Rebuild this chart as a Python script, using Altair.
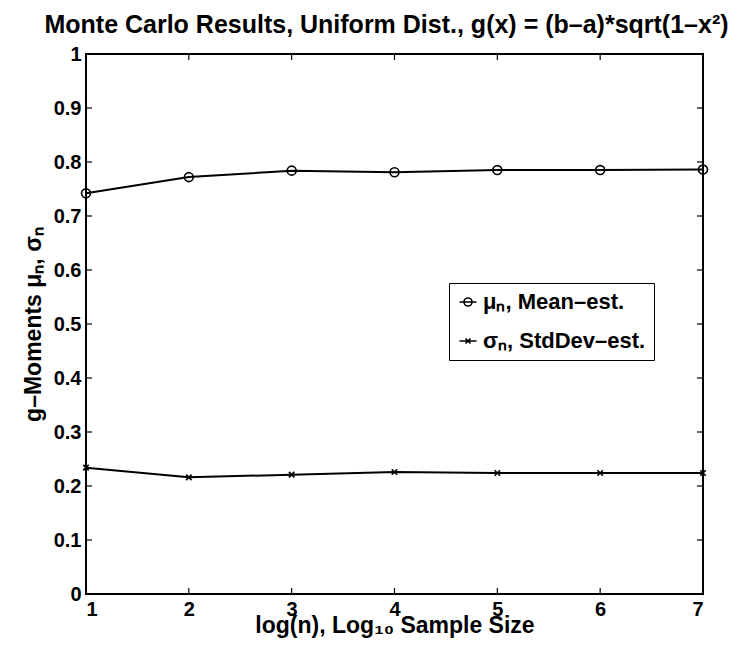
import altair as alt
import pandas as pd

# ---- data ----
log_n = [1, 2, 3, 4, 5, 6, 7]
mean_est = [0.742, 0.772, 0.784, 0.781, 0.785, 0.785, 0.786]
std_est = [0.234, 0.216, 0.221, 0.226, 0.224, 0.224, 0.224]
series_names = ["μₙ, Mean–est.", "σₙ, StdDev–est."]
x_ticks = [1, 2, 3, 4, 5, 6, 7]
y_ticks = [0, 0.1, 0.2, 0.3, 0.4, 0.5, 0.6, 0.7, 0.8, 0.9, 1.0]

W, H = 617, 540
FONT = "Liberation Sans"

df = pd.DataFrame({
    "x": log_n * 2,
    "y": mean_est + std_est,
    "series": [series_names[0]] * len(log_n) + [series_names[1]] * len(log_n),
})
xt = pd.DataFrame({"v": x_ticks})
yt = pd.DataFrame({"v": y_ticks})

xscale = alt.Scale(domain=[1, 7], nice=False, zero=False)
yscale = alt.Scale(domain=[0, 1], nice=False)

X = alt.X("x:Q", scale=xscale,
          axis=alt.Axis(values=x_ticks, format="d", ticks=False, domain=False, grid=False,
                        labelPadding=5, title="log(n), Log₁₀ Sample Size", titlePadding=-5))
Y = alt.Y("y:Q", scale=yscale,
          axis=alt.Axis(values=y_ticks, format="~g", ticks=False, domain=False, grid=False,
                        labelPadding=5, title="g–Moments μₙ, σₙ", titlePadding=8))

base = alt.Chart(df)

lines = base.mark_line(color="black", strokeWidth=2).encode(x=X, y=Y, detail="series:N")

circ = base.transform_filter(alt.datum.series == series_names[0]).mark_point(
    shape="circle", size=80, filled=False, color="black", strokeWidth=1.6, opacity=1
).encode(x="x:Q", y="y:Q")

xs = base.transform_filter(alt.datum.series == series_names[1]).mark_point(
    shape="M-1,-1L1,1M-1,1L1,-1", size=30, filled=False, color="black", strokeWidth=1.6, opacity=1
).encode(x="x:Q", y="y:Q")

circle_path = "M-1,0L1,0M0.47,0A0.47,0.47 0 1,1 -0.47,0A0.47,0.47 0 1,1 0.47,0"
x_path = "M-1,0L1,0M-0.3,-0.3L0.3,0.3M-0.3,0.3L0.3,-0.3"

legend_layer = base.mark_point(opacity=0, filled=False, color="black").encode(
    x="x:Q", y="y:Q",
    shape=alt.Shape("series:N",
                    scale=alt.Scale(domain=series_names, range=[circle_path, x_path]),
                    legend=alt.Legend(title=None, orient="none", legendX=363, legendY=229,
                                      symbolSize=289, symbolOpacity=1, symbolStrokeColor="black",
                                      symbolFillColor="transparent", symbolStrokeWidth=1.6,
                                      labelFont=FONT, labelFontSize=22, labelFontWeight="bold",
                                      labelColor="black", labelOffset=4, labelLimit=400,
                                      padding=8, rowPadding=17,
                                      strokeColor="black", fillColor="white")),
)

tick_len = 6
bottom_ticks = alt.Chart(xt).mark_rule(color="black", strokeWidth=1.2).encode(
    x=alt.X("v:Q", scale=xscale), y=alt.value(H), y2=alt.value(H - tick_len))
top_ticks = alt.Chart(xt).mark_rule(color="black", strokeWidth=1.2).encode(
    x=alt.X("v:Q", scale=xscale), y=alt.value(0), y2=alt.value(tick_len))
left_ticks = alt.Chart(yt).mark_rule(color="black", strokeWidth=1.2).encode(
    y=alt.Y("v:Q", scale=yscale), x=alt.value(0), x2=alt.value(tick_len))
right_ticks = alt.Chart(yt).mark_rule(color="black", strokeWidth=1.2).encode(
    y=alt.Y("v:Q", scale=yscale), x=alt.value(W), x2=alt.value(W - tick_len))

chart = alt.layer(
    lines, circ, xs, legend_layer, bottom_ticks, top_ticks, left_ticks, right_ticks
).resolve_scale(shape="independent").properties(
    width=W, height=H,
    autosize=alt.AutoSizeParams(type="none"),
    padding={"left": 78, "top": 46, "right": 40, "bottom": 47},
    title=alt.TitleParams("Monte Carlo Results, Uniform Dist., g(x) = (b–a)*sqrt(1–x²)",
                          font=FONT, fontSize=25, fontWeight="bold", color="black",
                          anchor="middle", offset=6, dx=-8),
).configure_view(stroke="black", strokeWidth=2).configure_axis(
    labelFont=FONT, labelFontSize=20, labelFontWeight="bold", labelColor="black",
    titleFont=FONT, titleFontSize=23, titleFontWeight="bold", titleColor="black",
)

chart.save("out.html", embed_options={"renderer": "svg", "actions": False})
